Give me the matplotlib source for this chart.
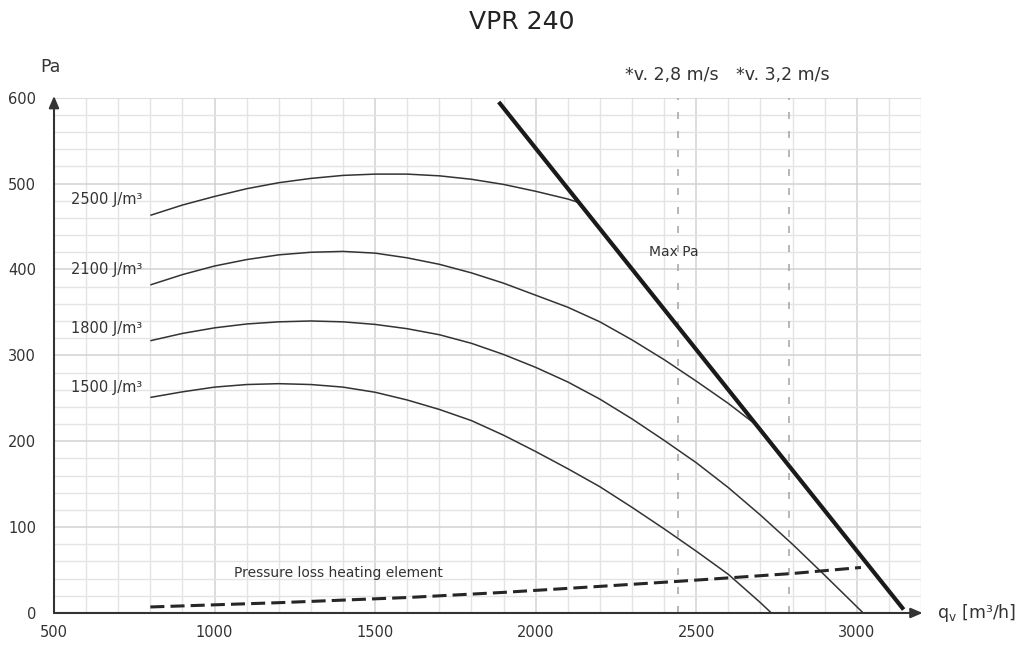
import numpy as np
import matplotlib.pyplot as plt
from matplotlib.ticker import MultipleLocator

# fan curves (q in m3/h, p in Pa)
q_2500 = [800, 900, 1000, 1100, 1200, 1300, 1400, 1500, 1600, 1700, 1800, 1900, 2000, 2100, 2134]
p_2500 = [463, 475, 485, 494, 501, 506, 509.5, 511, 511, 509, 505, 499, 491, 482, 478]

q_2100 = [800, 900, 1000, 1100, 1200, 1300, 1400, 1500, 1600, 1700, 1800, 1900, 2000,
          2100, 2200, 2300, 2400, 2500, 2600, 2687]
p_2100 = [382, 394, 404, 411.5, 417, 420, 421, 419, 413.5, 406, 396, 384, 370,
          356, 339, 318, 295, 270, 244, 219]

q_1800 = [800, 900, 1000, 1100, 1200, 1300, 1400, 1500, 1600, 1700, 1800, 1900, 2000,
          2100, 2200, 2300, 2400, 2500, 2600, 2700, 2800, 2900, 3020]
p_1800 = [317, 325.5, 332, 336.5, 339, 340, 339, 336, 331, 324, 314, 301, 286,
          269, 249, 226, 201, 175, 146, 114, 80, 44, 0]

q_1500 = [800, 900, 1000, 1100, 1200, 1300, 1400, 1500, 1600, 1700, 1800, 1900, 2000,
          2100, 2200, 2300, 2400, 2500, 2600, 2700, 2734]
p_1500 = [251, 257.5, 263, 266, 267, 266, 263, 257, 248, 237, 224, 207, 188,
          168, 147, 123, 98, 72, 45, 12, 0]

q_max = [1885, 3146]
p_max = [595, 4]

q_loss = [800, 1200, 1600, 1900, 2200, 2450, 2800, 3013]
p_loss = [7, 12, 18, 24, 31, 37, 46, 53]

v_lines = [2444, 2790]
v_labels = ['*v. 2,8 m/s', '*v. 3,2 m/s']

curve_names = ['2500 J/m³', '2100 J/m³', '1800 J/m³', '1500 J/m³']
curve_label_y = [481, 400, 331, 263]

x_ticks = [500, 1000, 1500, 2000, 2500, 3000]
y_ticks = [0, 100, 200, 300, 400, 500, 600]

txt = '#333333'

fig = plt.figure(figsize=(10.17, 6.46), dpi=100)
ax = fig.add_axes([0.0531, 0.0511, 0.8525, 0.7977])
ax.set_xlim(500, 3200)
ax.set_ylim(0, 600)

# grid
ax.set_xticks(x_ticks)
ax.set_yticks(y_ticks)
ax.xaxis.set_minor_locator(MultipleLocator(100))
ax.yaxis.set_minor_locator(MultipleLocator(20))
ax.grid(which='minor', color='#e4e4e4', lw=1.0)
ax.grid(which='major', color='#d2d2d2', lw=1.1)
ax.set_axisbelow(True)
ax.tick_params(which='both', length=0)
ax.tick_params(axis='y', pad=13, labelsize=10.5, labelcolor=txt)
ax.tick_params(axis='x', pad=9, labelsize=10.5, labelcolor=txt)
for s in ax.spines.values():
    s.set_visible(False)

# axes with arrows
ax.annotate('', xy=(500, 602), xytext=(500, 0), annotation_clip=False,
            arrowprops=dict(arrowstyle='-|>,head_length=0.7,head_width=0.3', color='#333333', lw=1.5, shrinkA=0, shrinkB=0))
ax.annotate('', xy=(3205, 0), xytext=(500, 0), annotation_clip=False,
            arrowprops=dict(arrowstyle='-|>,head_length=0.7,head_width=0.3', color='#333333', lw=1.5, shrinkA=0, shrinkB=0))

# velocity lines
for v in v_lines:
    ax.plot([v, v], [0, 600], color='#aaaaaa', lw=1.2, dashes=(4.2, 7.2))

# fan curves
for q, p in [(q_2500, p_2500), (q_2100, p_2100), (q_1800, p_1800), (q_1500, p_1500)]:
    ax.plot(q, p, color='#333333', lw=1.1, solid_capstyle='butt', solid_joinstyle='round')

for name, y in zip(curve_names, curve_label_y):
    ax.text(776, y, name, ha='right', va='center', fontsize=10.5, color=txt)

# max pressure and heating element loss
ax.plot(q_max, p_max, color='#1a1a1a', lw=3.0, solid_capstyle='butt')
ax.plot(q_loss, p_loss, color='#262626', lw=2.2, dashes=(4.6, 2.0))

ax.text(2354, 420, 'Max Pa', ha='left', va='center', fontsize=10, color=txt)
ax.text(1062, 47, 'Pressure loss heating element', ha='left', va='center', fontsize=10, color=txt)

for v, lab in zip(v_lines, v_labels):
    ax.text(v - 20, 626, lab, ha='center', va='center', fontsize=12.5, color=txt, clip_on=False)

ax.text(488, 636, 'Pa', ha='center', va='center', fontsize=12.5, color=txt, clip_on=False)
ax.text(3251, 0, 'q$_\\mathregular{v}$ [m³/h]', ha='left', va='center', fontsize=12.5, color=txt, clip_on=False)

fig.text(0.513, 0.966, 'VPR 240', ha='center', va='center', fontsize=18, color='#222222')

fig.savefig('out.png', dpi=100)
